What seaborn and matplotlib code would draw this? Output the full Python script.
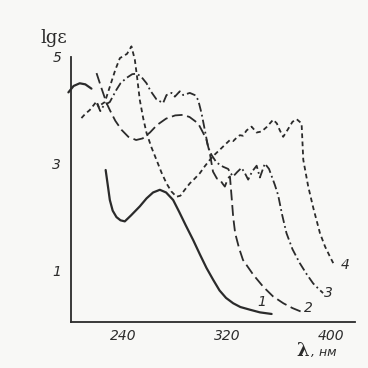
import numpy as np
import pandas as pd
import matplotlib
matplotlib.use("Agg")
import matplotlib.pyplot as plt
import seaborn as sns

# ---- data (wavelength nm, lg eps) ----
c1a_x = [198, 202, 206.7, 211, 215.7]
c1a_y = [4.33, 4.45, 4.50, 4.48, 4.40]
c1b_x = [226.6, 228.5, 229.8, 232, 234.9, 238, 241.3, 246, 252.8, 258, 263, 268.2, 273, 278.4,
         283, 288, 293.8, 299, 304, 309.1, 314, 319, 324.5, 330, 337.3, 345, 354]
c1b_y = [2.88, 2.55, 2.32, 2.12, 2.00, 1.94, 1.92, 2.03, 2.20, 2.35, 2.46, 2.51, 2.46, 2.32,
         2.10, 1.85, 1.57, 1.30, 1.05, 0.83, 0.63, 0.49, 0.39, 0.32, 0.27, 0.22, 0.19]

c2_x = [219.6, 223.5, 227.3, 229.8, 234, 238.8, 244, 250, 255, 260.6, 266, 273, 280, 286, 291,
        297.6, 301.5, 304, 306.5, 309, 312, 314.3, 316.5, 318.1, 320.6, 322, 323.2, 324.5, 326,
        329, 332, 340, 347.5, 355, 363, 370, 377]
c2_y = [4.69, 4.40, 4.13, 4.00, 3.80, 3.63, 3.50, 3.44, 3.47, 3.58, 3.72, 3.84, 3.90, 3.91, 3.87,
        3.75, 3.57, 3.44, 3.20, 2.85, 2.72, 2.70, 2.62, 2.57, 2.73, 2.76, 2.40, 2.00, 1.70,
        1.42, 1.20, 0.92, 0.70, 0.52, 0.39, 0.30, 0.23]

c3_x = [220, 222.5, 225, 229.8, 234.9, 238, 242.6, 247, 250.5, 254, 258, 261, 265.6, 270.7, 273.3,
        277.2, 279.7, 283.5, 286.1, 291.2, 295, 297.6, 300.2, 302.7, 305.3, 307.9, 311.7, 316.8,
        320.6, 322.5, 324.5, 327.5, 330.9, 333.5, 336, 339, 342.5, 345, 348.8, 352, 356.5, 359,
        362, 365.4, 370, 375.6, 381, 385.9, 390, 393.5]
c3_y = [4.12, 3.98, 4.08, 4.15, 4.38, 4.50, 4.60, 4.67, 4.68, 4.62, 4.50, 4.36, 4.20, 4.13, 4.28,
        4.32, 4.25, 4.35, 4.28, 4.32, 4.28, 4.19, 3.94, 3.63, 3.30, 3.16, 3.02, 2.94,
        2.90, 2.82, 2.76, 2.84, 2.92, 2.82, 2.70, 2.85, 2.96, 2.74, 3.00, 2.90, 2.60, 2.41,
        2.05, 1.70, 1.40, 1.14, 0.93, 0.76, 0.66, 0.58]

c4_x = [208, 211, 214.4, 217, 219.6, 221.5, 223, 226, 230, 234, 237.5, 241, 243, 246.4, 249,
        250.8, 252.8, 255.4, 258, 261.8, 265.6, 269.5, 273.3, 277, 281, 284, 287, 291.2, 295,
        298.9, 302.7, 306.6, 310.4, 314.3, 319.4, 322, 324.5, 327, 329.6, 332, 334.8, 338.6, 342.5,
        346.3, 350.1, 355.2, 358, 360.3, 362.9, 366, 370, 373.2, 377, 378.3, 382.1, 386, 391.1,
        395, 398.8, 401.3]
c4_y = [3.85, 3.93, 4.00, 4.08, 4.16, 4.05, 4.10, 4.15, 4.45, 4.75, 4.97, 5.02, 5.05, 5.19, 4.94,
        4.60, 4.19, 3.85, 3.57, 3.30, 3.07, 2.83, 2.63, 2.48, 2.38, 2.40, 2.50, 2.63, 2.72,
        2.82, 2.95, 3.07, 3.17, 3.26, 3.38, 3.44, 3.42, 3.48, 3.53, 3.52, 3.62, 3.69, 3.58,
        3.60, 3.68, 3.82, 3.75, 3.62, 3.50, 3.62, 3.78, 3.83, 3.75, 3.07, 2.57, 2.17, 1.70,
        1.45, 1.26, 1.14]

curve_labels = ["1", "2", "3", "4"]
label_x = [346.3, 382.0, 397.5, 410.5]
label_y = [0.42, 0.30, 0.58, 1.11]

y_ticks = [1, 3, 5]
x_ticks = [240, 320, 400]

# ---- assemble long table ----
frames = []
for cx, cy, cur, seg in [(c1a_x, c1a_y, "1", "1a"), (c1b_x, c1b_y, "1", "1b"),
                         (c2_x, c2_y, "2", "2"), (c3_x, c3_y, "3", "3"), (c4_x, c4_y, "4", "4")]:
    frames.append(pd.DataFrame({"wl": cx, "lge": cy, "curve": cur, "seg": seg}))
df = pd.concat(frames, ignore_index=True)

ink = "#2b2b2b"
bg = "#f8f8f6"

sns.set_style("white")
fig = plt.figure(figsize=(3.68, 3.68), dpi=100, facecolor=bg)
ax = fig.add_axes([71 / 368, 46 / 368, 284 / 368, 281 / 368])
ax.set_facecolor(bg)

sns.lineplot(data=df, x="wl", y="lge", style="curve", units="seg", estimator=None, sort=False,
             dashes={"1": "", "2": (6, 2.6), "3": (5, 1.8, 1, 1.8), "4": (2.6, 1.9)},
             color=ink, linewidth=1.3, legend=False, ax=ax)
for ln in ax.get_lines():
    ln.set_clip_on(False)
    ln.set_solid_capstyle("round")
ax.get_lines()[0].set_linewidth(1.6)
ax.get_lines()[1].set_linewidth(1.6)

ax.set_xlim(200, 418)
ax.set_ylim(0.04, 5.29)
ax.spines["top"].set_visible(False)
ax.spines["right"].set_visible(False)
for s in ["left", "bottom"]:
    ax.spines[s].set_color(ink)
    ax.spines[s].set_linewidth(1.3)
ax.spines["left"].set_bounds(0.04, 5)

ax.set_xticks(x_ticks)
ax.set_yticks(y_ticks)
ax.set_xticklabels([str(v) for v in x_ticks], fontstyle="italic", fontsize=10, color=ink)
ax.set_yticklabels([str(v) for v in y_ticks], fontstyle="italic", fontsize=10, color=ink)
ax.tick_params(axis="both", direction="in", length=5, width=1.2, color=ink, pad=5)
ax.tick_params(axis="y", pad=7)
ax.set_xlabel("")
ax.set_ylabel("")

for t, lx, ly in zip(curve_labels, label_x, label_y):
    ax.text(lx, ly, t, fontsize=10, fontstyle="italic", color=ink, ha="center", va="center")

fig.text(40 / 368, 1 - 43 / 368, "lg\u03b5", fontsize=13, family="DejaVu Serif", color=ink,
         ha="left", va="baseline")
fig.text(296 / 368, 1 - 356 / 368, "\u03bb", fontsize=13, fontweight="bold", family="DejaVu Serif",
         color=ink, ha="left", va="baseline")
fig.text(311 / 368, 1 - 356 / 368, ", \u043d\u043c", fontsize=9, fontstyle="italic", color=ink,
         ha="left", va="baseline")

fig.savefig("out.png", dpi=100, facecolor=bg)
